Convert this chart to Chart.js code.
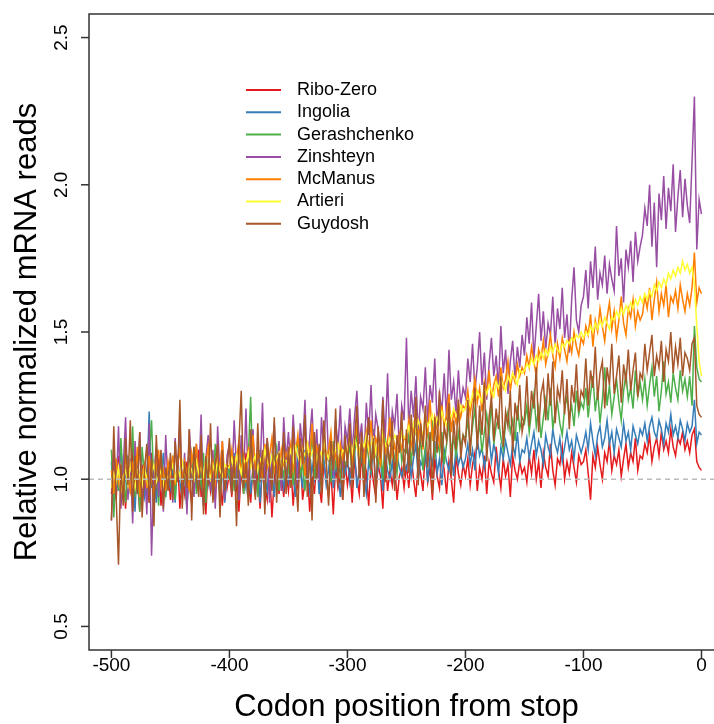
<!DOCTYPE html>
<html>
<head>
<meta charset="utf-8">
<script src="https://cdn.jsdelivr.net/npm/chart.js@4.4.1/dist/chart.umd.min.js"></script>
<style>
  html, body { margin: 0; padding: 0; background: #fff; }
  #wrap { width: 714px; height: 724px; position: relative; }
</style>
</head>
<body>
<div id="wrap"><canvas id="chart"></canvas></div>
<script>
// codon positions (every 2nd codon)
const POS = [
  -500, -498, -496, -494, -492, -490, -488, -486, -484, -482, -480, -478, -476, -474, -472, -470, -468, -466, -464, -462, -460, -458, -456, -454, -452,
  -450, -448, -446, -444, -442, -440, -438, -436, -434, -432, -430, -428, -426, -424, -422, -420, -418, -416, -414, -412, -410, -408, -406, -404, -402,
  -400, -398, -396, -394, -392, -390, -388, -386, -384, -382, -380, -378, -376, -374, -372, -370, -368, -366, -364, -362, -360, -358, -356, -354, -352,
  -350, -348, -346, -344, -342, -340, -338, -336, -334, -332, -330, -328, -326, -324, -322, -320, -318, -316, -314, -312, -310, -308, -306, -304, -302,
  -300, -298, -296, -294, -292, -290, -288, -286, -284, -282, -280, -278, -276, -274, -272, -270, -268, -266, -264, -262, -260, -258, -256, -254, -252,
  -250, -248, -246, -244, -242, -240, -238, -236, -234, -232, -230, -228, -226, -224, -222, -220, -218, -216, -214, -212, -210, -208, -206, -204, -202,
  -200, -198, -196, -194, -192, -190, -188, -186, -184, -182, -180, -178, -176, -174, -172, -170, -168, -166, -164, -162, -160, -158, -156, -154, -152,
  -150, -148, -146, -144, -142, -140, -138, -136, -134, -132, -130, -128, -126, -124, -122, -120, -118, -116, -114, -112, -110, -108, -106, -104, -102,
  -100, -98, -96, -94, -92, -90, -88, -86, -84, -82, -80, -78, -76, -74, -72, -70, -68, -66, -64, -62, -60, -58, -56, -54, -52,
  -50, -48, -46, -44, -42, -40, -38, -36, -34, -32, -30, -28, -26, -24, -22, -20, -18, -16, -14, -12, -10, -8, -6, -4, -2,
  0
];

const RIBO_ZERO = [
  0.95, 1.04, 0.93, 1.08, 0.98, 1.02, 0.90, 1.06, 0.96, 1.11, 0.94, 1.00, 0.89, 1.05, 0.97, 1.03, 0.92, 1.09, 0.99, 0.94, 1.07, 0.91, 1.02, 0.97, 1.05,
  0.93, 1.03, 0.96, 1.08, 0.90, 1.01, 0.95, 1.06, 0.98, 0.92, 1.04, 0.97, 1.10, 0.94, 1.00, 0.88, 1.05, 0.96, 1.02, 0.93, 1.07, 0.99, 0.91, 1.04, 0.97,
  1.02, 0.94, 1.07, 0.97, 0.89, 1.03, 0.95, 1.09, 0.99, 0.92, 1.05, 0.96, 1.01, 0.90, 1.06, 0.98, 0.93, 1.04, 0.87, 1.00, 1.08, 0.95, 1.02, 0.94, 1.03,
  0.96, 1.05, 0.91, 1.02, 0.97, 1.08, 0.93, 0.99, 1.04, 0.89, 1.01, 0.95, 1.07, 0.98, 0.92, 1.06, 1.00, 0.94, 1.03, 0.88, 1.05, 0.97, 1.01, 0.93, 1.06,
  0.98, 1.04, 0.92, 1.07, 1.00, 0.95, 1.09, 0.97, 1.02, 0.91, 1.06, 0.99, 0.94, 1.05, 1.01, 0.90, 1.08, 0.96, 1.03, 0.98, 1.06, 0.93, 1.01, 1.04, 0.97,
  1.05, 0.97, 1.08, 1.00, 0.94, 1.06, 1.02, 0.96, 1.10, 0.99, 1.04, 0.93, 1.07, 1.01, 0.97, 1.09, 1.03, 0.95, 1.06, 1.00, 0.92, 1.08, 1.02, 0.98, 1.05,
  1.01, 1.07, 0.98, 1.05, 1.09, 0.96, 1.04, 1.00, 1.08, 0.95, 1.06, 1.02, 0.99, 1.11, 1.03, 0.97, 1.07, 1.01, 1.05, 0.94, 1.08, 1.03, 1.00, 1.06, 1.02,
  1.04, 0.99, 1.08, 1.02, 1.10, 1.00, 1.06, 0.97, 1.09, 1.04, 1.01, 1.12, 1.03, 0.98, 1.07, 1.05, 1.11, 1.00, 1.06, 1.02, 1.09, 1.04, 0.99, 1.08, 1.05,
  1.06, 1.10, 1.02, 0.93, 1.08, 1.04, 1.11, 1.05, 1.00, 1.09, 1.06, 1.13, 1.03, 1.08, 1.05, 1.10, 1.01, 1.07, 1.12, 1.04, 1.09, 1.06, 1.14, 1.03, 1.08,
  1.07, 1.12, 1.09, 1.15, 1.06, 1.11, 1.14, 1.08, 1.16, 1.10, 1.13, 1.09, 1.17, 1.11, 1.08, 1.14, 1.12, 1.16, 1.10, 1.13, 1.09, 1.15, 1.17, 1.06, 1.04,
  1.03
];

const INGOLIA = [
  1.06, 0.90, 1.03, 0.96, 1.12, 0.93, 1.01, 1.08, 0.95, 1.04, 0.89, 1.07, 0.98, 1.02, 0.94, 1.00, 1.23, 0.97, 1.05, 0.92, 1.03, 0.99, 1.09, 0.94, 1.02,
  0.97, 1.05, 0.92, 1.08, 0.99, 0.94, 1.04, 0.90, 1.06, 1.01, 0.95, 1.09, 0.97, 1.02, 0.91, 1.05, 0.98, 1.03, 0.93, 1.07, 1.00, 0.96, 1.04, 0.92, 1.01,
  1.04, 0.96, 1.09, 1.00, 0.93, 1.06, 1.02, 0.97, 1.11, 0.95, 1.03, 0.99, 1.07, 0.92, 1.05, 1.01, 0.96, 1.08, 1.02, 0.94, 1.06, 1.00, 1.04, 0.97, 1.03,
  0.99, 1.06, 1.01, 0.94, 1.08, 1.03, 0.97, 1.10, 1.02, 0.96, 1.05, 1.00, 1.09, 0.95, 1.04, 1.07, 0.98, 1.03, 1.11, 0.97, 1.05, 1.01, 0.94, 1.06, 1.02,
  1.07, 0.99, 1.05, 1.10, 0.97, 1.03, 1.08, 1.01, 0.95, 1.06, 1.02, 1.11, 0.98, 1.04, 1.07, 0.96, 1.09, 1.03, 1.00, 1.06, 0.98, 1.08, 1.04, 1.01, 1.05,
  1.03, 1.09, 1.01, 1.07, 1.12, 1.00, 1.06, 1.04, 1.10, 0.99, 1.08, 1.05, 1.13, 1.02, 1.07, 0.98, 1.10, 1.06, 1.03, 1.09, 1.01, 1.11, 1.05, 1.08, 1.04,
  1.07, 1.12, 1.05, 1.10, 1.03, 1.14, 1.08, 1.11, 1.04, 1.09, 1.15, 1.06, 1.12, 1.08, 1.02, 1.11, 1.07, 1.13, 1.09, 1.05, 1.12, 1.08, 1.16, 1.06, 1.10,
  1.09, 1.14, 1.07, 1.12, 1.16, 1.08, 1.13, 1.10, 1.05, 1.15, 1.11, 1.08, 1.17, 1.12, 1.09, 1.14, 1.06, 1.11, 1.16, 1.10, 1.13, 1.07, 1.15, 1.12, 1.09,
  1.12, 1.16, 1.10, 1.19, 1.13, 1.08, 1.15, 1.18, 1.11, 1.14, 1.20, 1.12, 1.16, 1.09, 1.17, 1.14, 1.11, 1.19, 1.13, 1.16, 1.10, 1.18, 1.15, 1.12, 1.17,
  1.15, 1.19, 1.13, 1.18, 1.21, 1.16, 1.14, 1.20, 1.17, 1.12, 1.19, 1.16, 1.22, 1.15, 1.18, 1.14, 1.20, 1.17, 1.13, 1.19, 1.16, 1.18, 1.27, 1.12, 1.16,
  1.15
];

const GERASHCHENKO = [
  1.10, 0.87, 1.05, 0.96, 1.14, 1.00, 0.92, 1.08, 0.98, 1.18, 0.94, 1.03, 0.89, 1.11, 1.01, 0.95, 1.07, 1.20, 0.97, 1.04, 0.91, 1.09, 1.00, 0.95, 1.06,
  0.99, 1.08, 0.93, 1.05, 1.13, 0.97, 1.02, 0.90, 1.07, 1.00, 1.11, 0.95, 1.04, 0.98, 1.09, 0.92, 1.06, 1.01, 0.96, 1.12, 1.03, 0.94, 1.08, 0.99, 1.05,
  1.01, 1.09, 0.96, 1.06, 1.00, 1.12, 0.95, 1.03, 1.08, 1.28, 0.99, 1.05, 0.94, 1.10, 1.02, 0.97, 1.13, 1.04, 0.98, 1.07, 1.11, 0.96, 1.05, 1.01, 1.09,
  1.03, 1.11, 0.98, 1.07, 1.14, 1.01, 1.05, 0.96, 1.10, 1.04, 1.16, 1.00, 1.08, 1.02, 0.97, 1.12, 1.06, 1.09, 0.99, 1.13, 1.04, 1.07, 1.01, 1.10, 1.05,
  1.06, 1.12, 1.01, 1.09, 1.15, 1.04, 1.10, 0.99, 1.13, 1.07, 1.03, 1.17, 1.08, 1.05, 1.11, 1.00, 1.14, 1.09, 1.04, 1.12, 1.07, 1.02, 1.16, 1.06, 1.10,
  1.09, 1.15, 1.06, 1.13, 1.18, 1.08, 1.14, 1.03, 1.11, 1.17, 1.10, 1.20, 1.07, 1.13, 1.09, 1.16, 1.05, 1.12, 1.19, 1.10, 1.14, 1.08, 1.16, 1.11, 1.15,
  1.14, 1.20, 1.11, 1.18, 1.24, 1.13, 1.19, 1.09, 1.16, 1.22, 1.15, 1.26, 1.12, 1.18, 1.21, 1.14, 1.10, 1.19, 1.23, 1.16, 1.20, 1.13, 1.25, 1.17, 1.21,
  1.19, 1.25, 1.16, 1.23, 1.29, 1.18, 1.24, 1.14, 1.21, 1.27, 1.20, 1.31, 1.17, 1.23, 1.26, 1.19, 1.15, 1.24, 1.28, 1.21, 1.25, 1.18, 1.30, 1.22, 1.26,
  1.24, 1.31, 1.21, 1.29, 1.35, 1.23, 1.30, 1.19, 1.27, 1.38, 1.25, 1.32, 1.22, 1.28, 1.34, 1.26, 1.20, 1.30, 1.36, 1.27, 1.31, 1.24, 1.37, 1.28, 1.33,
  1.27, 1.34, 1.25, 1.32, 1.38, 1.28, 1.35, 1.23, 1.30, 1.40, 1.29, 1.33, 1.26, 1.36, 1.31, 1.27, 1.37, 1.30, 1.34, 1.28, 1.35, 1.25, 1.52, 1.38, 1.34,
  1.33
];

const ZINSHTEYN = [
  0.86, 1.10, 0.95, 1.18, 0.90, 1.04, 1.21, 0.93, 1.07, 0.85, 1.13, 0.98, 1.16, 0.91, 1.05, 0.88, 1.19, 0.74, 1.02, 1.11, 0.94, 1.08, 0.89, 1.15, 0.97,
  1.06, 0.92, 1.14, 1.00, 1.20, 0.95, 1.09, 0.88, 1.17, 1.03, 0.94, 1.12, 0.99, 1.22, 0.91, 1.07, 1.15, 0.96, 1.10, 0.90, 1.18, 1.01, 1.13, 0.93, 1.08,
  1.12, 0.98, 1.20, 1.04, 0.93, 1.15, 1.01, 1.24, 0.97, 1.09, 1.17, 0.95, 1.11, 1.03, 1.26, 0.99, 1.14, 0.92, 1.08, 1.19, 1.02, 1.13, 0.96, 1.21, 1.06,
  1.16, 1.03, 1.22, 1.08, 0.98, 1.19, 1.10, 1.27, 1.02, 1.14, 1.24, 1.05, 1.17, 0.99, 1.21, 1.09, 1.28, 1.06, 1.15, 1.01, 1.20, 1.11, 1.25, 1.04, 1.18,
  1.13, 1.24, 1.09, 1.21, 1.30, 1.12, 1.19, 1.06, 1.26, 1.15, 1.32, 1.10, 1.22, 1.17, 1.08, 1.28, 1.14, 1.36, 1.11, 1.23, 1.18, 1.29, 1.09, 1.25, 1.20,
  1.48, 1.17, 1.30, 1.21, 1.35, 1.15, 1.28, 1.24, 1.38, 1.19, 1.32, 1.26, 1.41, 1.18, 1.29, 1.23, 1.36, 1.20, 1.44, 1.27, 1.33, 1.22, 1.37, 1.25, 1.31,
  1.28, 1.41, 1.33, 1.46, 1.30, 1.38, 1.50, 1.32, 1.43, 1.27, 1.39, 1.48, 1.35, 1.42, 1.31, 1.52, 1.36, 1.44, 1.29, 1.40, 1.47, 1.34, 1.45, 1.38, 1.49,
  1.42, 1.55, 1.46, 1.60, 1.41, 1.52, 1.63, 1.47, 1.57, 1.44, 1.53, 1.49, 1.62, 1.45, 1.58, 1.51, 1.65, 1.48, 1.56, 1.43, 1.61, 1.72, 1.54, 1.50, 1.59,
  1.62, 1.71, 1.58, 1.74, 1.65, 1.79, 1.61, 1.70, 1.66, 1.76, 1.63, 1.73, 1.68, 1.64, 1.86, 1.69, 1.75, 1.60, 1.78, 1.72, 1.81, 1.67, 1.84, 1.74, 1.79,
  1.83, 1.92, 1.86, 2.00, 1.79, 1.94, 1.72, 1.97, 1.88, 2.03, 1.85, 1.99, 1.91, 2.07, 1.84, 1.96, 2.05, 1.89, 2.02, 1.93, 1.87, 2.08, 2.30, 1.78, 1.95,
  1.90
];

const MCMANUS = [
  1.03, 0.95, 1.07, 0.99, 1.04, 0.93, 1.09, 1.01, 0.96, 1.06, 0.98, 1.11, 0.94, 1.02, 1.05, 0.97, 1.08, 1.00, 0.95, 1.04, 1.10, 0.98, 1.03, 0.96, 1.06,
  1.01, 1.08, 0.98, 1.05, 1.10, 0.99, 1.06, 1.02, 0.96, 1.09, 1.04, 1.12, 1.00, 1.07, 0.97, 1.05, 1.11, 1.01, 1.06, 0.99, 1.08, 1.03, 1.13, 1.00, 1.05,
  1.04, 1.10, 1.01, 1.07, 1.13, 1.02, 1.08, 0.99, 1.11, 1.05, 1.15, 1.03, 1.09, 1.06, 1.00, 1.12, 1.04, 1.08, 1.14, 1.03, 1.07, 1.01, 1.10, 1.05, 1.09,
  1.06, 1.12, 1.03, 1.09, 1.15, 1.05, 1.10, 1.01, 1.13, 1.07, 1.19, 1.04, 1.11, 1.08, 1.02, 1.14, 1.06, 1.10, 1.16, 1.05, 1.09, 1.03, 1.12, 1.07, 1.11,
  1.09, 1.15, 1.06, 1.12, 1.18, 1.08, 1.13, 1.05, 1.16, 1.10, 1.20, 1.07, 1.14, 1.11, 1.04, 1.17, 1.09, 1.13, 1.21, 1.08, 1.12, 1.06, 1.15, 1.10, 1.14,
  1.13, 1.20, 1.11, 1.17, 1.24, 1.14, 1.19, 1.10, 1.22, 1.16, 1.27, 1.13, 1.21, 1.17, 1.12, 1.25, 1.18, 1.22, 1.29, 1.16, 1.23, 1.19, 1.26, 1.21, 1.25,
  1.24, 1.30, 1.22, 1.28, 1.34, 1.26, 1.31, 1.23, 1.33, 1.29, 1.37, 1.27, 1.32, 1.35, 1.28, 1.38, 1.31, 1.34, 1.40, 1.30, 1.36, 1.33, 1.39, 1.35, 1.38,
  1.36, 1.42, 1.38, 1.45, 1.40, 1.35, 1.44, 1.41, 1.47, 1.39, 1.43, 1.49, 1.42, 1.38, 1.46, 1.41, 1.48, 1.44, 1.40, 1.47, 1.43, 1.50, 1.45, 1.42, 1.48,
  1.46, 1.52, 1.49, 1.56, 1.45, 1.54, 1.50, 1.58, 1.52, 1.47, 1.55, 1.60, 1.51, 1.57, 1.48, 1.54, 1.62, 1.53, 1.49, 1.58, 1.55, 1.61, 1.52, 1.57, 1.54,
  1.56, 1.62, 1.58, 1.65, 1.54, 1.61, 1.67, 1.57, 1.63, 1.59, 1.66, 1.55, 1.62, 1.60, 1.64, 1.58, 1.66, 1.61, 1.57, 1.63, 1.59, 1.65, 1.77, 1.60, 1.65,
  1.63
];

const ARTIERI = [
  0.97, 1.02, 0.99, 1.04, 0.96, 1.01, 1.03, 0.98, 1.05, 1.00, 0.97, 1.03, 1.01, 0.98, 1.04, 1.00, 0.96, 1.02, 1.05, 0.99, 1.01, 1.03, 0.98, 1.02, 1.00,
  1.02, 1.05, 1.00, 1.04, 1.01, 1.06, 1.02, 0.99, 1.05, 1.03, 1.00, 1.06, 1.02, 1.04, 1.01, 1.07, 1.03, 1.00, 1.05, 1.02, 1.06, 1.03, 1.01, 1.05, 1.04,
  1.04, 1.07, 1.03, 1.08, 1.05, 1.02, 1.07, 1.05, 1.09, 1.04, 1.06, 1.08, 1.03, 1.07, 1.05, 1.10, 1.06, 1.04, 1.08, 1.05, 1.07, 1.09, 1.04, 1.07, 1.06,
  1.07, 1.10, 1.06, 1.11, 1.08, 1.05, 1.10, 1.08, 1.12, 1.07, 1.09, 1.11, 1.06, 1.10, 1.08, 1.13, 1.09, 1.07, 1.11, 1.08, 1.10, 1.12, 1.07, 1.10, 1.09,
  1.10, 1.13, 1.09, 1.14, 1.11, 1.08, 1.13, 1.11, 1.15, 1.10, 1.12, 1.14, 1.09, 1.13, 1.11, 1.16, 1.12, 1.10, 1.14, 1.12, 1.15, 1.13, 1.11, 1.16, 1.14,
  1.15, 1.18, 1.14, 1.19, 1.16, 1.20, 1.17, 1.15, 1.21, 1.18, 1.20, 1.22, 1.17, 1.21, 1.19, 1.23, 1.20, 1.18, 1.23, 1.21, 1.24, 1.22, 1.20, 1.25, 1.23,
  1.24, 1.27, 1.25, 1.29, 1.26, 1.30, 1.28, 1.26, 1.31, 1.29, 1.32, 1.30, 1.28, 1.33, 1.31, 1.34, 1.32, 1.30, 1.35, 1.33, 1.36, 1.34, 1.32, 1.37, 1.36,
  1.37, 1.39, 1.38, 1.41, 1.39, 1.42, 1.40, 1.43, 1.41, 1.44, 1.42, 1.45, 1.43, 1.46, 1.44, 1.43, 1.46, 1.45, 1.47, 1.46, 1.48, 1.47, 1.49, 1.48, 1.50,
  1.48, 1.50, 1.49, 1.52, 1.50, 1.53, 1.51, 1.54, 1.52, 1.55, 1.53, 1.51, 1.55, 1.54, 1.57, 1.55, 1.58, 1.56, 1.59, 1.57, 1.60, 1.58, 1.61, 1.59, 1.62,
  1.60, 1.63, 1.61, 1.64, 1.62, 1.66, 1.64, 1.67, 1.65, 1.68, 1.66, 1.70, 1.68, 1.71, 1.69, 1.72, 1.70, 1.74, 1.71, 1.73, 1.70, 1.72, 1.66, 1.52, 1.40,
  1.35
];

const GUYDOSH = [
  0.86, 1.18, 0.94, 0.71, 1.05, 0.91, 1.14, 0.98, 1.20, 0.89, 1.08, 0.95, 1.16, 0.87, 1.03, 1.12, 0.92, 1.07, 0.84, 1.15, 0.99, 1.10, 0.90, 1.04, 0.96,
  1.09, 0.93, 1.13, 0.99, 1.27, 0.90, 1.06, 0.97, 1.17, 0.86, 1.11, 1.01, 0.94, 1.15, 0.88, 1.08, 0.98, 1.19, 0.92, 1.05, 1.12, 0.87, 1.10, 0.96, 1.03,
  1.14, 0.95, 1.08, 0.84, 1.12, 1.30, 0.97, 1.06, 0.91, 1.17, 1.02, 0.93, 1.19, 0.99, 1.10, 0.88, 1.14, 1.04, 0.96, 1.21, 0.92, 1.09, 1.00, 1.16, 0.95,
  1.11, 0.97, 1.18, 1.02, 0.89, 1.14, 1.05, 1.22, 0.94, 1.09, 0.86, 1.16, 1.00, 1.12, 0.95, 1.20, 1.07, 0.91, 1.13, 1.03, 1.24, 0.98, 1.10, 0.93, 1.15,
  1.04, 1.19, 0.97, 1.13, 1.25, 1.00, 1.16, 0.94, 1.11, 1.21, 1.03, 1.14, 0.92, 1.18, 1.07, 1.27, 0.99, 1.12, 1.05, 1.20, 0.96, 1.15, 1.09, 1.23, 1.01,
  1.17, 1.02, 1.22, 1.08, 1.28, 0.98, 1.19, 1.11, 1.25, 1.04, 1.16, 0.95, 1.21, 1.09, 1.30, 1.06, 1.18, 1.13, 1.26, 1.01, 1.20, 1.10, 1.27, 1.07, 1.15,
  1.12, 1.27, 1.08, 1.22, 1.31, 1.10, 1.25, 1.15, 1.33, 1.06, 1.21, 1.28, 1.13, 1.24, 1.17, 1.35, 1.11, 1.23, 1.18, 1.30, 1.09, 1.26, 1.20, 1.32, 1.16,
  1.21, 1.35, 1.18, 1.30, 1.24, 1.38, 1.16, 1.29, 1.33, 1.20, 1.36, 1.25, 1.40, 1.19, 1.31, 1.27, 1.37, 1.22, 1.34, 1.17, 1.32, 1.26, 1.39, 1.23, 1.30,
  1.28, 1.41, 1.25, 1.37, 1.31, 1.45, 1.27, 1.36, 1.40, 1.24, 1.38, 1.32, 1.46, 1.29, 1.35, 1.42, 1.26, 1.39, 1.33, 1.44, 1.30, 1.37, 1.43, 1.28, 1.36,
  1.34, 1.46, 1.37, 1.43, 1.49, 1.35, 1.42, 1.38, 1.47, 1.33, 1.44, 1.40, 1.50, 1.36, 1.45, 1.39, 1.48, 1.35, 1.43, 1.41, 1.37, 1.46, 1.48, 1.25, 1.22,
  1.21
];

const NAMES = ['Ribo-Zero', 'Ingolia', 'Gerashchenko', 'Zinshteyn', 'McManus', 'Artieri', 'Guydosh'];
const SERIES = [RIBO_ZERO, INGOLIA, GERASHCHENKO, ZINSHTEYN, MCMANUS, ARTIERI, GUYDOSH];
const COLORS = ['#E41A1C', '#377EB8', '#4DAF4A', '#984EA3', '#FF7F00', '#FFFF33', '#A65628'];

const X_TICKS = [-500, -400, -300, -200, -100, 0];
const Y_TICKS = [0.5, 1.0, 1.5, 2.0, 2.5];
const Y_TICK_LABELS = ['0.5', '1.0', '1.5', '2.0', '2.5'];
const REF_LINE = 1.0;

const FONT = "'Liberation Sans', Arial, sans-serif";

// R-style frame, axes, reference line and legend
const frame = {
  id: 'frame',
  afterDatasetsDraw(chart) {
    const { ctx, chartArea: a, scales: { x, y } } = chart;
    ctx.save();

    // dashed line at 1.0
    const y1 = y.getPixelForValue(REF_LINE);
    ctx.strokeStyle = '#bbbbbb';
    ctx.lineWidth = 1.5;
    ctx.setLineDash([5, 4]);
    ctx.beginPath();
    ctx.moveTo(a.left, y1);
    ctx.lineTo(a.right, y1);
    ctx.stroke();
    ctx.setLineDash([]);

    // box (right side is outside the picture)
    ctx.strokeStyle = '#333';
    ctx.lineWidth = 1.5;
    ctx.beginPath();
    ctx.moveTo(a.right + 2, a.top);
    ctx.lineTo(a.left, a.top);
    ctx.lineTo(a.left, a.bottom);
    ctx.lineTo(a.right + 2, a.bottom);
    ctx.stroke();

    // x ticks
    ctx.fillStyle = '#000';
    ctx.font = '19px ' + FONT;
    ctx.textAlign = 'center';
    ctx.textBaseline = 'middle';
    X_TICKS.forEach(v => {
      const px = x.getPixelForValue(v);
      ctx.beginPath();
      ctx.moveTo(px, a.bottom);
      ctx.lineTo(px, a.bottom + 8);
      ctx.stroke();
      ctx.fillText(String(v), px, a.bottom + 16);
    });

    // y ticks, rotated labels
    Y_TICKS.forEach((v, i) => {
      const py = y.getPixelForValue(v);
      ctx.beginPath();
      ctx.moveTo(a.left, py);
      ctx.lineTo(a.left - 8, py);
      ctx.stroke();
      ctx.save();
      ctx.translate(a.left - 27, py);
      ctx.rotate(-Math.PI / 2);
      ctx.fillText(Y_TICK_LABELS[i], 0, 0);
      ctx.restore();
    });

    // axis titles
    ctx.font = '31px ' + FONT;
    ctx.fillText('Codon position from stop', x.getPixelForValue(-250), a.bottom + 57);
    ctx.save();
    ctx.translate(27, y.getPixelForValue(1.5));
    ctx.rotate(-Math.PI / 2);
    ctx.fillText('Relative normalized mRNA reads', 0, 0);
    ctx.restore();

    // legend
    ctx.font = '18px ' + FONT;
    ctx.textAlign = 'left';
    ctx.lineWidth = 2;
    NAMES.forEach((name, i) => {
      const ly = 90 + i * 22.3;
      ctx.strokeStyle = COLORS[i];
      ctx.beginPath();
      ctx.moveTo(246, ly);
      ctx.lineTo(281, ly);
      ctx.stroke();
      ctx.fillStyle = '#000';
      ctx.fillText(name, 297, ly);
    });

    ctx.restore();
  }
};

new Chart(document.getElementById('chart'), {
  type: 'line',
  data: {
    datasets: SERIES.map((vals, i) => ({
      label: NAMES[i],
      data: POS.map((p, j) => ({ x: p, y: vals[j] })),
      borderColor: COLORS[i],
      borderWidth: 1.5,
      pointRadius: 0,
      tension: 0,
      fill: false,
      order: SERIES.length - i,
    }))
  },
  options: {
    responsive: true,
    maintainAspectRatio: false,
    animation: false,
    layout: { padding: { left: 89, top: 14, right: 0, bottom: 74 } },
    plugins: {
      legend: { display: false },
      tooltip: { enabled: false },
    },
    scales: {
      x: { type: 'linear', min: -519, max: 10.6, display: false },
      y: { type: 'linear', min: 0.42, max: 2.58, display: false },
    },
  },
  plugins: [frame],
});
</script>
</body>
</html>
